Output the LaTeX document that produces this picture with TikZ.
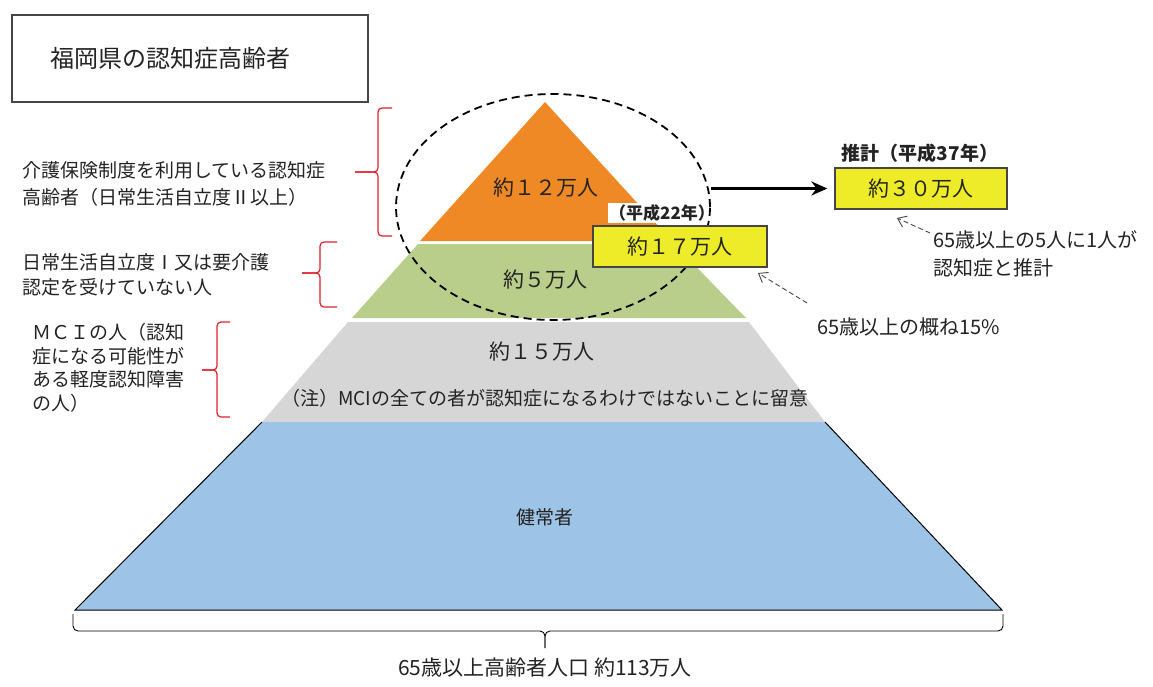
\documentclass[tikz,border=0pt]{standalone}
\usepackage{fontspec}
\setmainfont{Noto Sans CJK JP}
\usetikzlibrary{shapes.geometric,arrows.meta}
\definecolor{cOrange}{RGB}{238,137,38}
\definecolor{cGreen}{RGB}{184,206,138}
\definecolor{cGray}{RGB}{214,214,214}
\definecolor{cBlue}{RGB}{157,195,230}
\definecolor{cYellow}{RGB}{238,236,40}
\definecolor{cRed}{RGB}{222,32,44}
\definecolor{cText}{RGB}{35,35,35}
\definecolor{cBorder}{RGB}{70,70,70}
\begin{document}
\begin{tikzpicture}[x=1pt,y=-1pt,
  every node/.style={text=cText, inner sep=0pt},
  fs/.style={font=\fontsize{#1}{#1}\selectfont},
  sidelbl/.style={anchor=west, align=left},
  ybox/.style={draw=cBorder, line width=1.3pt, fill=cYellow, minimum width=174pt, minimum height=41pt, fs=21},
  redbrace/.style={draw=cRed, line width=1.2pt, rounded corners=4pt},
  dasharrow/.style={draw=cBorder, line width=0.9pt, dash pattern=on 5pt off 3pt, -{Straight Barb[length=8pt,width=12pt]}},
  boldlbl/.style={font=\fontsize{#1}{#1}\selectfont\bfseries}
]
\useasboundingbox (0,0) rectangle (1153,686);

% title
\node[draw=cBorder, line width=1.2pt, minimum height=87pt, text width=280pt, inner xsep=38pt, align=left, fs=24] (title) at (190,58.5) {福岡県の認知症高齢者};

% pyramid layers
\fill[cOrange] (545,102) -- (672,241) -- (420,241) -- cycle;
\fill[cGreen] (418,244) -- (674,244) -- (746,318) -- (352,318) -- cycle;
\fill[cGray] (348,322) -- (749,322) -- (825,422) -- (262,422) -- cycle;
\fill[cBlue] (262,422) -- (825,422) -- (1002,610) -- (75,610) -- cycle;
\draw[line width=1pt, black] (262,422) -- (75,610) -- (1002,610) -- (825,422);

% layer texts
\node[fs=21] (n12) at (546,188) {約１２万人};
\node[fs=21] (n5) at (545,280) {約５万人};
\node[fs=21] (n15) at (542,352) {約１５万人};
\node[fs=19] (note) at (545,398) {（注）MCIの全ての者が認知症になるわけではないことに留意};
\node[fs=19] (kj) at (545,517) {健常者};

% label 22 and ellipse
\node[fill=white, inner xsep=1pt, inner ysep=2pt, boldlbl=17] (y22) at (662,213) {（平成22年）};
\node[draw=black, ellipse, dash pattern=on 8pt off 5pt, line width=1.8pt, minimum width=314pt, minimum height=226pt] (circ) at (553,207) {};

% yellow boxes
\node[ybox] (b17) at (680,246.5) {約１７万人};
\node[ybox, minimum width=172pt] (b30) at (921,188.5) {約３０万人};
\node[boldlbl=19] (y37) at (920,153) {推計（平成37年）};

% thick arrow
\draw[line width=3.5pt, -{Stealth[length=16pt,width=14pt]}, shorten >=7pt] (circ.east |- b30.west) -- (b30.west);

% right notes
\node[sidelbl, font=\fontsize{20}{28}\selectfont] (t5) at (933,254) {65歳以上の5人に1人が\\認知症と推計};
\node[sidelbl, fs=20] (t15) at (817,327) {65歳以上の概ね15\%};
\coordinate (tail30) at (930,233);
\coordinate (head30) at (897,218);
\coordinate (tail15) at (807,303);
\coordinate (head15) at (758,273);
\draw[dasharrow] (tail30) -- (head30);
\draw[dasharrow] (tail15) -- (head15);

% left labels
\node[sidelbl, font=\fontsize{19}{27}\selectfont] (L1) at (22,183.5) {介護保険制度を利用している認知症\\高齢者（日常生活自立度Ⅱ以上）};
\node[sidelbl, font=\fontsize{19}{25}\selectfont] (L2) at (22,274.5) {日常生活自立度Ⅰ又は要介護\\認定を受けていない人};
\node[sidelbl, font=\fontsize{19}{23.5}\selectfont] (L3) at (32,368) {ＭＣＩの人（認知\\症になる可能性が\\ある軽度認知障害\\の人）};

% red braces
\draw[redbrace] (392,108) -- (378,108) -- (378,172) -- (355,172);
\draw[redbrace] (355,172) -- (378,172) -- (378,236) -- (392,236);
\draw[redbrace] (337,242) -- (320,242) -- (320,273) -- (302,273);
\draw[redbrace] (302,273) -- (320,273) -- (320,307) -- (337,307);
\draw[redbrace] (230,322) -- (217,322) -- (217,370) -- (202,370);
\draw[redbrace] (202,370) -- (217,370) -- (217,417) -- (230,417);

% bottom brace
\draw[line width=0.9pt, rounded corners=5pt] (73,614) -- (73,631) -- (545,631) -- (545,648);
\draw[line width=0.9pt, rounded corners=5pt] (545,648) -- (545,631) -- (1003,631) -- (1003,614);
\node[fs=21] (total) at (545,668) {65歳以上高齢者人口\ 約113万人};
\end{tikzpicture}
\end{document}
